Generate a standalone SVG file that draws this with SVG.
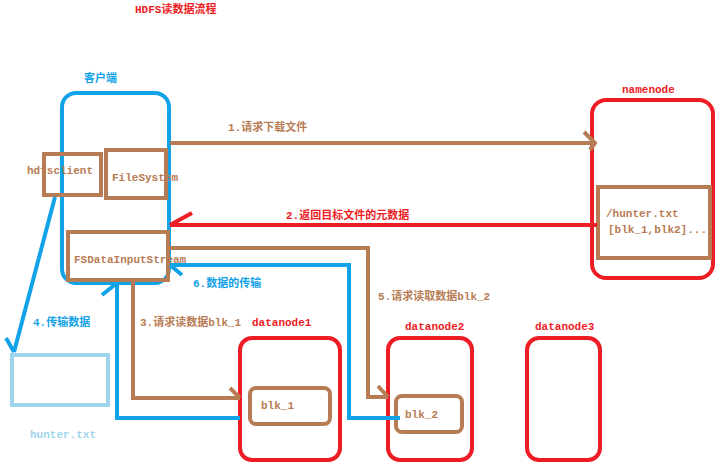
<svg xmlns="http://www.w3.org/2000/svg" width="725" height="470" viewBox="0 0 725 470">
<style>
text{font-family:"Liberation Mono","Noto Sans CJK SC",monospace;font-weight:bold;font-size:11px}
.b{fill:none;stroke:#b87c55;stroke-width:4}
.r{fill:none;stroke:#ee1c24;stroke-width:4}
.u{fill:none;stroke:#12a2e8;stroke-width:4}
.tb{fill:#b87c55}.tr{fill:#ee1c24}.tu{fill:#12a2e8}
</style>
<rect width="725" height="470" fill="#fff"/>
<text class="tr" x="135" y="13">HDFS读数据流程</text>
<g id="client">
<text class="tu" x="84" y="82">客户端</text>
<rect class="u" x="62" y="93" width="107" height="190" rx="14"/>
</g>
<g id="hdfsclient"><rect class="b" x="44" y="154" width="57" height="41"/><text class="tb" x="27" y="174">hdfsclient</text></g>
<g id="filesystem"><rect class="b" x="106" y="150" width="60" height="48"/><text class="tb" x="112" y="181">FileSystem</text></g>
<g id="fsdis"><rect class="b" x="68" y="232" width="100" height="48"/><text class="tb" x="74" y="263">FSDataInputStream</text></g>
<g id="namenode">
<text class="tr" x="622" y="93">namenode</text>
<rect class="r" x="592" y="100" width="121" height="178" rx="14"/>
<rect class="b" x="598" y="187" width="112" height="71"/>
<text class="tb" x="606" y="217">/hunter.txt</text>
<text class="tb" x="608" y="233">[blk_1,blk2]...</text>
</g>
<g id="datanode1"><text class="tr" x="252" y="326">datanode1</text><rect class="r" x="240" y="338" width="100" height="122" rx="12"/></g>
<g id="blk1"><rect class="b" x="250" y="388" width="80" height="36" rx="6"/><text class="tb" x="261" y="409">blk_1</text></g>
<g id="datanode2"><text class="tr" x="405" y="330">datanode2</text><rect class="r" x="388" y="338" width="84" height="122" rx="12"/></g>
<g id="blk2"><rect class="b" x="396" y="396" width="66" height="36" rx="6"/><text class="tb" x="405" y="418">blk_2</text></g>
<g id="datanode3"><text class="tr" x="535" y="330">datanode3</text><rect class="r" x="527" y="338" width="73" height="122" rx="12"/></g>
<g id="hunter"><rect fill="none" stroke="#9fd5ec" stroke-width="4" x="12" y="355" width="96" height="50"/><text fill="#9fd5ec" x="30" y="438">hunter.txt</text></g>
<g id="connectors">
<path class="b" d="M170 143H595M584 132L595 143L590 150"/>
<text class="tb" x="228" y="131">1.请求下载文件</text>
<path class="r" d="M597 225H170M192 213L170 225"/>
<text class="tr" x="286" y="219">2.返回目标文件的元数据</text>
<path class="b" d="M133 278V398H240M230 388L240 398"/>
<text class="tb" x="140" y="326">3.请求读数据blk_1</text>
<path class="u" d="M240 418H117V283M102 295L117 283"/>
<path class="u" d="M55 197L14 352M6 338L14 352"/>
<text class="tu" x="33" y="326">4.传输数据</text>
<path class="b" d="M168 248H368V397H388M378 386L388 397"/>
<text class="tb" x="378" y="300">5.请求读取数据blk_2</text>
<path class="u" d="M400 418H349V265H170M182 275L170 265"/>
<text class="tu" x="193" y="287">6.数据的传输</text>
</g>
</svg>
